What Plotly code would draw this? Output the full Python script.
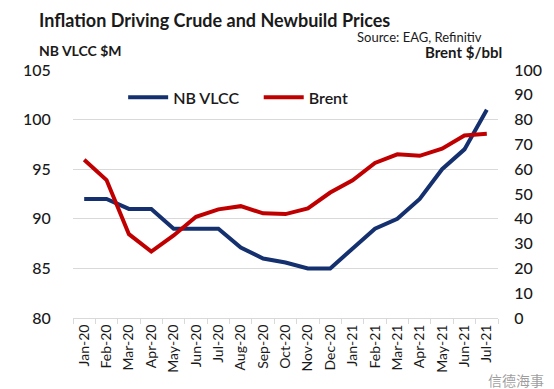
import plotly.graph_objects as go

months = ["Jan-20", "Feb-20", "Mar-20", "Apr-20", "May-20", "Jun-20", "Jul-20",
          "Aug-20", "Sep-20", "Oct-20", "Nov-20", "Dec-20", "Jan-21", "Feb-21",
          "Mar-21", "Apr-21", "May-21", "Jun-21", "Jul-21"]
nb_vlcc = [92, 92, 91, 91, 89, 89, 89, 87.1, 86, 85.6, 85, 85, 87, 89, 90, 92, 95, 97, 101]
brent = [63.8, 55.6, 33.8, 26.8, 33.3, 40.8, 43.8, 45.1, 42.2, 41.9, 44.2, 50.6, 55.5, 62.5,
         66, 65.4, 68.3, 73.6, 74.3]

FONT = "Lato, 'Open Sans', sans-serif"
BLUE = "#15306e"
RED = "#c00000"
TXT = "#1a1a1a"

fig = go.Figure()
fig.add_trace(go.Scatter(x=months, y=nb_vlcc, name="NB VLCC", mode="lines",
                         line=dict(color=BLUE, width=4), yaxis="y", legend="legend"))
fig.add_trace(go.Scatter(x=months, y=brent, name="Brent", mode="lines",
                         line=dict(color=RED, width=4), yaxis="y2", legend="legend2"))

legend_font = dict(size=16, weight=600, color=TXT)
fig.update_layout(
    width=546, height=381,
    margin=dict(l=65, r=53, t=62, b=71),
    paper_bgcolor="white", plot_bgcolor="white",
    font=dict(family=FONT, color=TXT, size=15),
    showlegend=True,
    legend=dict(orientation="h", x=0.118, y=0.958, xanchor="left", yanchor="top",
                bgcolor="rgba(0,0,0,0)", font=legend_font, itemwidth=40),
    legend2=dict(orientation="h", x=0.437, y=0.958, xanchor="left", yanchor="top",
                 bgcolor="rgba(0,0,0,0)", font=legend_font, itemwidth=40),
    xaxis=dict(type="category", range=[-0.5, 18.5], tickangle=-90,
               tickfont=dict(size=14, color=TXT), showgrid=False,
               showline=True, linecolor="#d9d9d9", linewidth=1,
               ticks="outside", tickson="boundaries", ticklen=5, tickcolor="#d9d9d9"),
    yaxis=dict(range=[80, 105], dtick=5, showgrid=True, gridcolor="#d9d9d9", gridwidth=1,
               zeroline=False, tickfont=dict(size=16, color=TXT, weight=500),
               ticks="outside", ticklen=18, tickcolor="white"),
    yaxis2=dict(range=[0, 100], dtick=10, overlaying="y", side="right", showgrid=False,
                zeroline=False, tickfont=dict(size=16, color=TXT, weight=500),
                ticks="outside", ticklen=12, tickcolor="white"),
)

fig.add_annotation(text="Inflation Driving Crude and Newbuild Prices", xref="paper", yref="paper",
                   x=-0.085, y=1.0, xanchor="left", yanchor="bottom", yshift=37,
                   showarrow=False, font=dict(size=18, weight=700, color=TXT))
fig.add_annotation(text="NB VLCC $M", xref="paper", yref="paper",
                   x=-0.085, y=1.0, xanchor="left", yanchor="bottom", yshift=9,
                   showarrow=False, font=dict(size=14, weight=700, color=TXT))
fig.add_annotation(text="Source: EAG, Refinitiv", xref="paper", yref="paper",
                   x=0.966, y=1.0, xanchor="right", yanchor="bottom", yshift=23,
                   showarrow=False, font=dict(size=13, color=TXT))
fig.add_annotation(text="Brent $/bbl", xref="paper", yref="paper",
                   x=1.014, y=1.0, xanchor="right", yanchor="bottom", yshift=7,
                   showarrow=False, font=dict(size=15, weight=700, color=TXT))
fig.add_annotation(text="信德海事", xref="paper", yref="paper",
                   x=1.112, y=0.0, xanchor="right", yanchor="top", yshift=-50,
                   showarrow=False,
                   font=dict(size=14, family="Noto Sans CJK SC", color="rgba(90,90,90,0.6)"))

fig.write_html("out.html")
